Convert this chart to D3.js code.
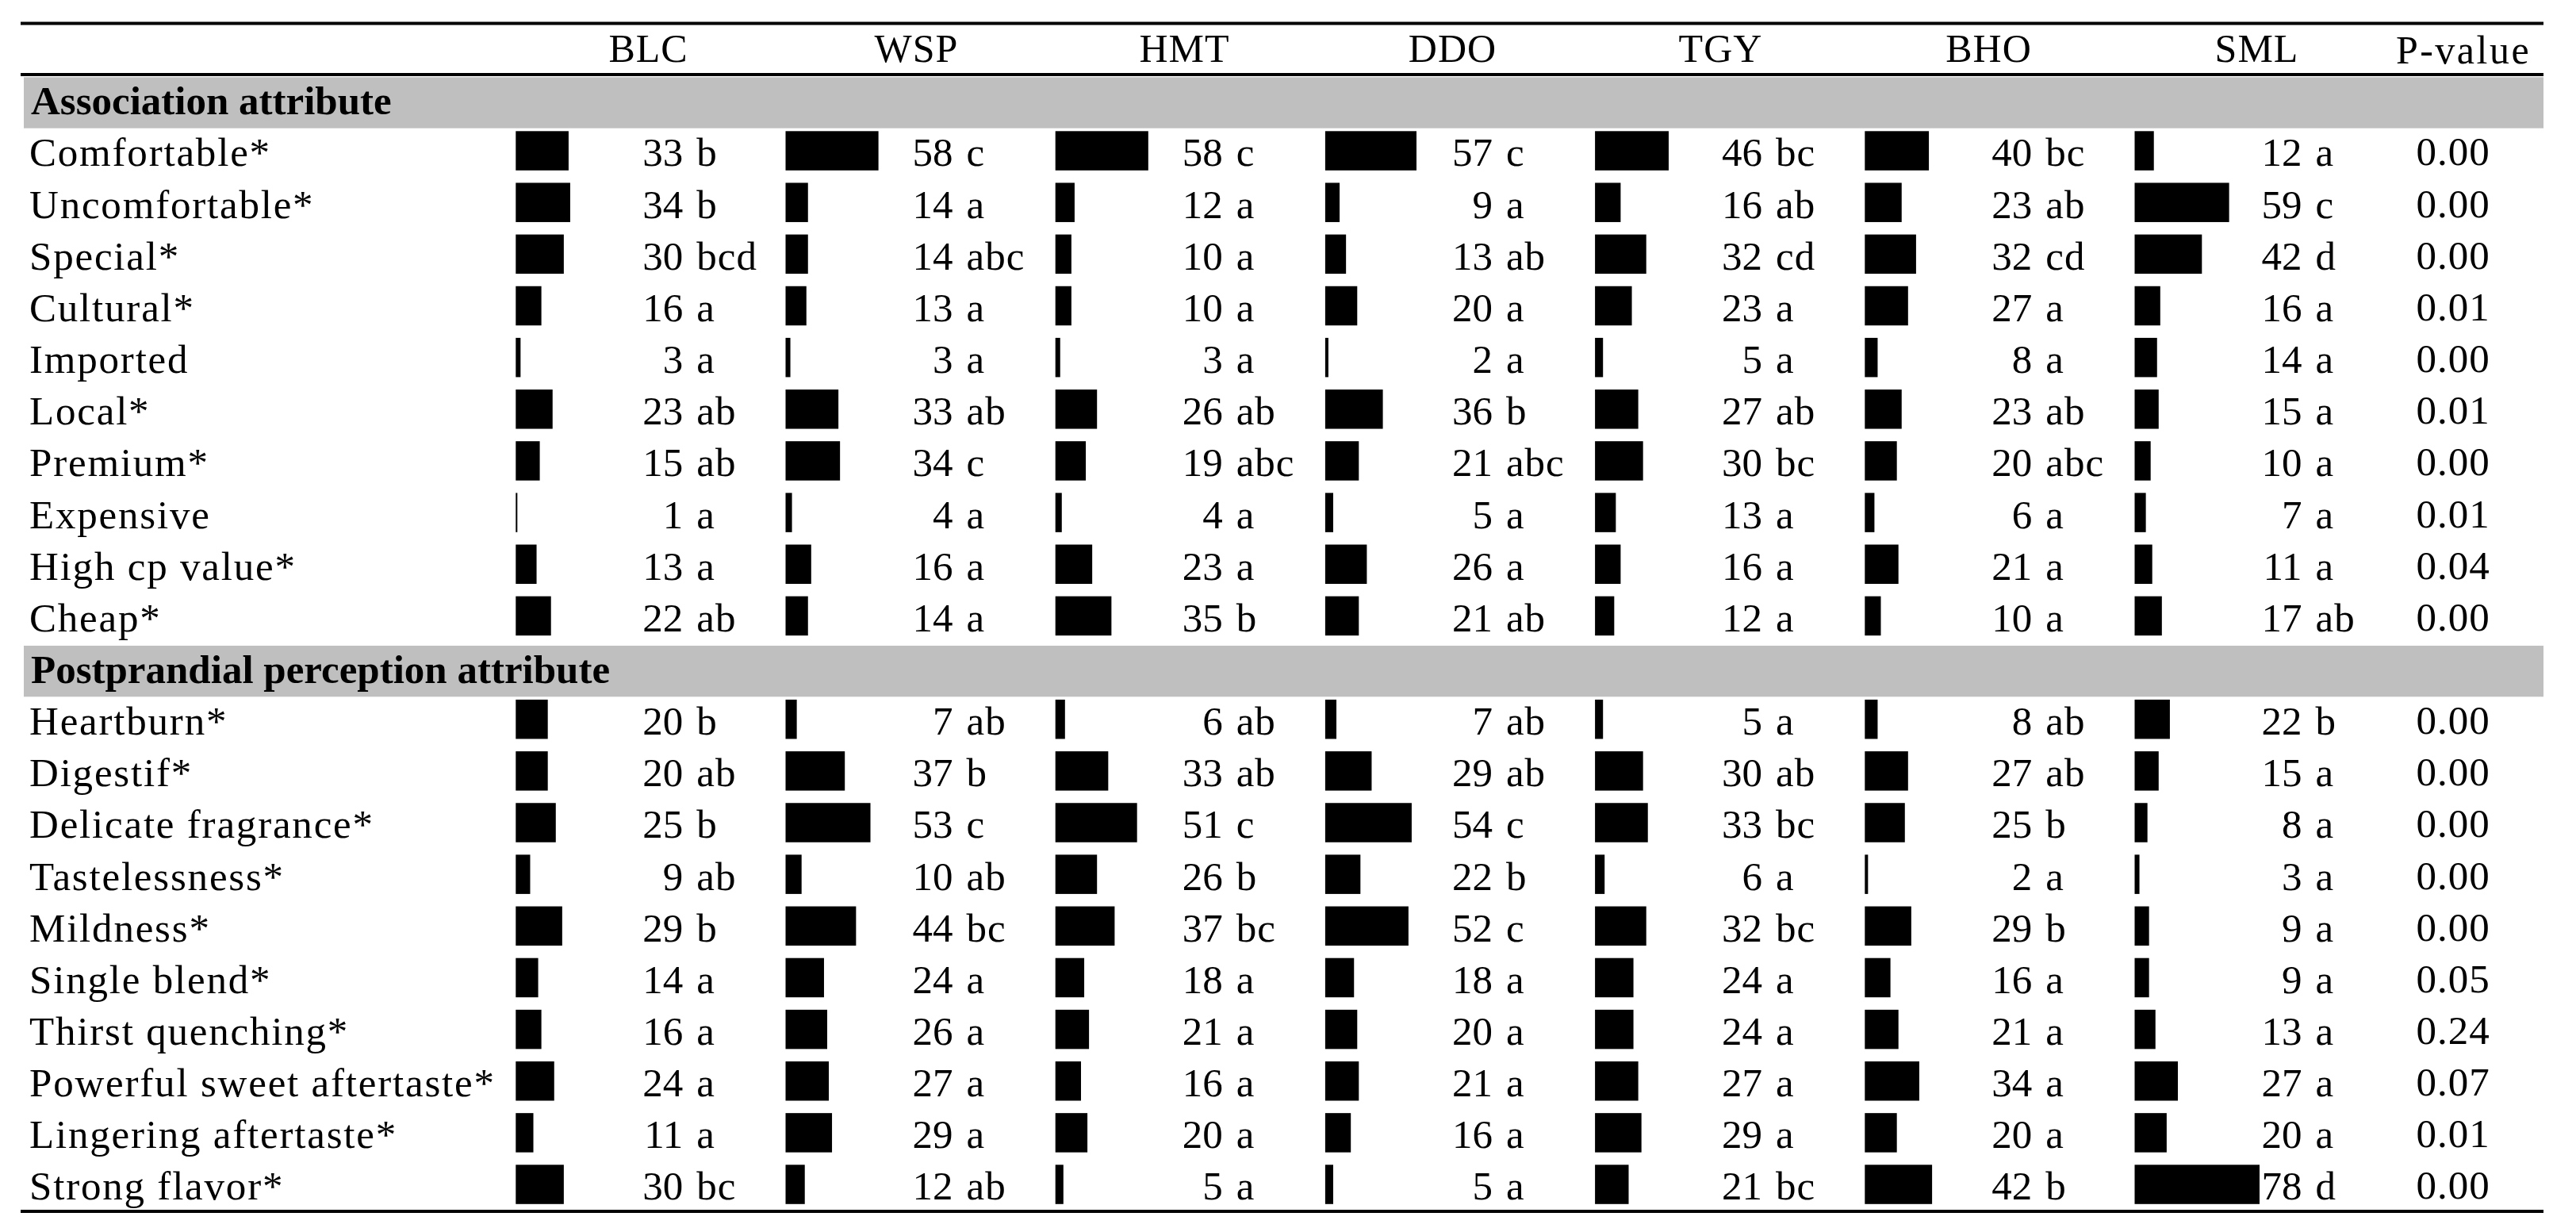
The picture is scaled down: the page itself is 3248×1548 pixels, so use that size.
<!DOCTYPE html>
<html>
<head>
<meta charset="utf-8">
<script src="https://cdn.jsdelivr.net/npm/d3@7"></script>
<style>
  html, body { margin: 0; padding: 0; background: #fff; }
  svg { display: block; }
  text { font-family: "Liberation Serif", "Times New Roman", serif; fill: #000; }
</style>
</head>
<body>
<svg id="chart" width="3248" height="1548"></svg>
<script>
// ---------- DATA ----------
const teas = ["BLC", "WSP", "HMT", "DDO", "TGY", "BHO", "SML"];
const groupNames = ["Association attribute", "Postprandial perception attribute"];
const associationAttributes = ["Comfortable*", "Uncomfortable*", "Special*", "Cultural*", "Imported",
  "Local*", "Premium*", "Expensive", "High cp value*", "Cheap*"];
const postprandialAttributes = ["Heartburn*", "Digestif*", "Delicate fragrance*", "Tastelessness*", "Mildness*",
  "Single blend*", "Thirst quenching*", "Powerful sweet aftertaste*", "Lingering aftertaste*", "Strong flavor*"];

// values: first 10 = association attributes, last 10 = postprandial attributes
const valuesBLC = [33, 34, 30, 16, 3, 23, 15, 1, 13, 22, 20, 20, 25, 9, 29, 14, 16, 24, 11, 30];
const valuesWSP = [58, 14, 14, 13, 3, 33, 34, 4, 16, 14, 7, 37, 53, 10, 44, 24, 26, 27, 29, 12];
const valuesHMT = [58, 12, 10, 10, 3, 26, 19, 4, 23, 35, 6, 33, 51, 26, 37, 18, 21, 16, 20, 5];
const valuesDDO = [57, 9, 13, 20, 2, 36, 21, 5, 26, 21, 7, 29, 54, 22, 52, 18, 20, 21, 16, 5];
const valuesTGY = [46, 16, 32, 23, 5, 27, 30, 13, 16, 12, 5, 30, 33, 6, 32, 24, 24, 27, 29, 21];
const valuesBHO = [40, 23, 32, 27, 8, 23, 20, 6, 21, 10, 8, 27, 25, 2, 29, 16, 21, 34, 20, 42];
const valuesSML = [12, 59, 42, 16, 14, 15, 10, 7, 11, 17, 22, 15, 8, 3, 9, 9, 13, 27, 20, 78];

const lettersBLC = ["b", "b", "bcd", "a", "a", "ab", "ab", "a", "a", "ab", "b", "ab", "b", "ab", "b", "a", "a", "a", "a", "bc"];
const lettersWSP = ["c", "a", "abc", "a", "a", "ab", "c", "a", "a", "a", "ab", "b", "c", "ab", "bc", "a", "a", "a", "a", "ab"];
const lettersHMT = ["c", "a", "a", "a", "a", "ab", "abc", "a", "a", "b", "ab", "ab", "c", "b", "bc", "a", "a", "a", "a", "a"];
const lettersDDO = ["c", "a", "ab", "a", "a", "b", "abc", "a", "a", "ab", "ab", "ab", "c", "b", "c", "a", "a", "a", "a", "a"];
const lettersTGY = ["bc", "ab", "cd", "a", "a", "ab", "bc", "a", "a", "a", "a", "ab", "bc", "a", "bc", "a", "a", "a", "a", "bc"];
const lettersBHO = ["bc", "ab", "cd", "a", "a", "ab", "abc", "a", "a", "a", "ab", "ab", "b", "a", "b", "a", "a", "a", "a", "b"];
const lettersSML = ["a", "c", "d", "a", "a", "a", "a", "a", "a", "ab", "b", "a", "a", "a", "a", "a", "a", "a", "a", "d"];

const pValues = ["0.00", "0.00", "0.00", "0.01", "0.00", "0.01", "0.00", "0.01", "0.04", "0.00",
  "0.00", "0.00", "0.00", "0.00", "0.00", "0.05", "0.24", "0.07", "0.01", "0.00"];

// ---------- BUILD ----------
const seriesValues = [valuesBLC, valuesWSP, valuesHMT, valuesDDO, valuesTGY, valuesBHO, valuesSML];
const seriesLetters = [lettersBLC, lettersWSP, lettersHMT, lettersDDO, lettersTGY, lettersBHO, lettersSML];

const rows = [];
rows.push({ type: "group", label: groupNames[0] });
associationAttributes.forEach((a, i) => rows.push({ type: "attr", label: a, idx: i }));
rows.push({ type: "group", label: groupNames[1] });
postprandialAttributes.forEach((a, i) => rows.push({ type: "attr", label: a, idx: i + associationAttributes.length }));
rows.forEach((r, i) => r.pos = i);

const svg = d3.select("#chart");
const W = 3248;
const lineX0 = 26, lineX1 = 3207;

// scales
const y = d3.scaleLinear().domain([0, 1]).range([97.3, 162.45]);      // row index -> row top
const rowH = y(1) - y(0);
const barX = d3.scaleLinear().domain([0, 6]).range([650.3, 2691.5]);  // series index -> bar start
const headX = d3.scaleLinear().domain([0, 6]).range([817.5, 2845.5]); // series index -> header center
const w = d3.scaleLinear().domain([0, 78]).range([0, 157.5]);         // value -> bar width

const fontSize = 51;

// group bands
svg.selectAll("rect.band").data(rows.filter(r => r.type === "group")).join("rect")
  .attr("class", "band")
  .attr("x", 30).attr("width", lineX1 - 30)
  .attr("y", d => y(d.pos)).attr("height", rowH - 0.8)
  .attr("fill", "#bfbfbf");

svg.selectAll("text.group").data(rows.filter(r => r.type === "group")).join("text")
  .attr("class", "group")
  .attr("x", 39).attr("y", d => y(d.pos) + 47)
  .attr("font-size", fontSize).attr("font-weight", "bold")
  .text(d => d.label);

// rules
svg.append("line").attr("x1", lineX0).attr("x2", lineX1).attr("y1", 29.5).attr("y2", 29.5)
  .attr("stroke", "#000").attr("stroke-width", 4);
svg.append("line").attr("x1", lineX0).attr("x2", lineX1).attr("y1", 94).attr("y2", 94)
  .attr("stroke", "#000").attr("stroke-width", 4);
svg.append("line").attr("x1", lineX0).attr("x2", lineX1).attr("y1", 1527).attr("y2", 1527)
  .attr("stroke", "#000").attr("stroke-width", 4);

// headers
svg.selectAll("text.head").data(teas).join("text")
  .attr("class", "head")
  .attr("x", (d, i) => headX(i)).attr("y", 78)
  .attr("text-anchor", "middle")
  .attr("font-size", 50).attr("letter-spacing", 1)
  .text(d => d);
svg.append("text")
  .attr("x", 3106).attr("y", 80)
  .attr("text-anchor", "middle")
  .attr("font-size", 50).attr("letter-spacing", 2.5)
  .text("P-value");

// attribute rows
const attrRows = rows.filter(r => r.type === "attr");
svg.selectAll("text.label").data(attrRows).join("text")
  .attr("class", "label")
  .attr("x", 37).attr("y", d => y(d.pos) + 47)
  .attr("font-size", fontSize).attr("letter-spacing", 1.8)
  .text(d => d.label);

teas.forEach((t, j) => {
  const g = svg.append("g").attr("class", "series-" + t);
  g.selectAll("rect").data(attrRows).join("rect")
    .attr("x", barX(j))
    .attr("y", d => y(d.pos) + 2.85)
    .attr("width", d => w(seriesValues[j][d.idx]))
    .attr("height", 49.5)
    .attr("fill", "#000");
  g.selectAll("text.num").data(attrRows).join("text")
    .attr("class", "num")
    .attr("x", barX(j) + 211).attr("y", d => y(d.pos) + 47)
    .attr("text-anchor", "end")
    .attr("font-size", fontSize)
    .text(d => seriesValues[j][d.idx]);
  g.selectAll("text.let").data(attrRows).join("text")
    .attr("class", "let")
    .attr("x", barX(j) + 228).attr("y", d => y(d.pos) + 47)
    .attr("font-size", fontSize).attr("letter-spacing", 1)
    .text(d => seriesLetters[j][d.idx]);
});

svg.selectAll("text.pval").data(attrRows).join("text")
  .attr("class", "pval")
  .attr("x", 3093).attr("y", d => y(d.pos) + 46)
  .attr("text-anchor", "middle")
  .attr("font-size", fontSize).attr("letter-spacing", 1)
  .text(d => pValues[d.idx]);
</script>
</body>
</html>
